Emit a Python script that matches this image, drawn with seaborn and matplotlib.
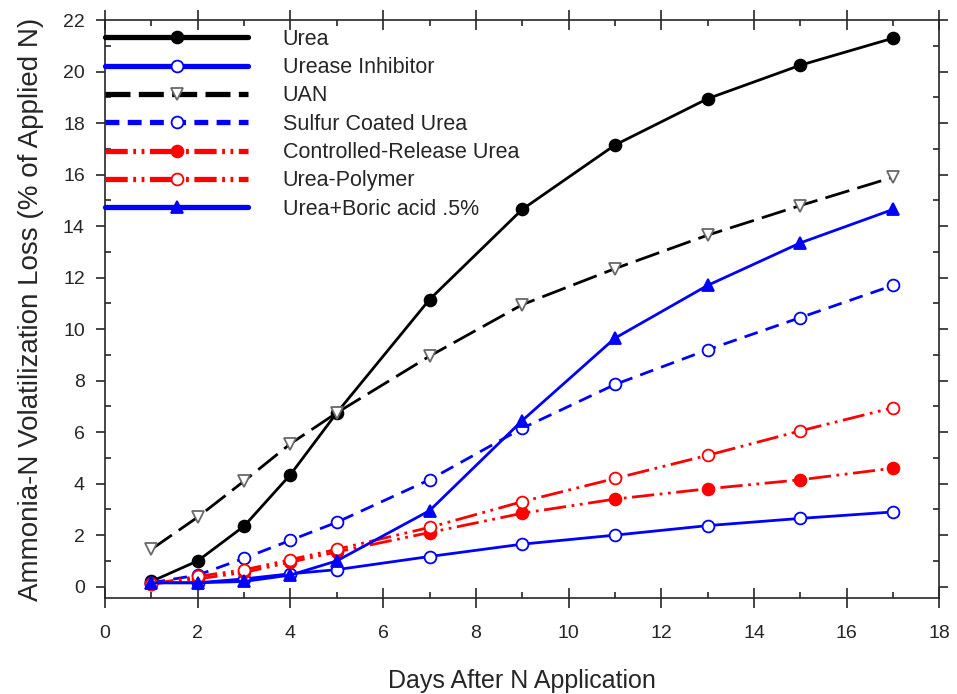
import matplotlib
matplotlib.use("Agg")
import matplotlib.pyplot as plt
from matplotlib.ticker import MultipleLocator
import seaborn as sns

days = [1, 2, 3, 4, 5, 7, 9, 11, 13, 15, 17]

urea = [0.2, 1.0, 2.35, 4.35, 6.75, 11.15, 14.65, 17.15, 18.95, 20.25, 21.3]
urease_inhibitor = [0.15, 0.15, 0.3, 0.5, 0.66, 1.17, 1.65, 2.0, 2.37, 2.65, 2.9]
uan = [1.45, 2.7, 4.1, 5.55, 6.75, 8.95, 10.95, 12.35, 13.65, 14.8, 15.9]
sulfur_coated = [0.15, 0.45, 1.1, 1.8, 2.5, 4.15, 6.15, 7.85, 9.2, 10.45, 11.7]
controlled_release = [0.1, 0.3, 0.55, 0.95, 1.35, 2.1, 2.85, 3.4, 3.8, 4.15, 4.6]
urea_polymer = [0.1, 0.4, 0.65, 1.05, 1.45, 2.3, 3.3, 4.2, 5.1, 6.05, 6.95]
boric_acid = [0.15, 0.15, 0.2, 0.45, 1.0, 2.95, 6.45, 9.65, 11.7, 13.35, 14.65]

labels = ["Urea", "Urease Inhibitor", "UAN", "Sulfur Coated Urea",
          "Controlled-Release Urea", "Urea-Polymer", "Urea+Boric acid .5%"]

sns.set_style("ticks")
plt.rcParams['font.family'] = ['Liberation Sans', 'DejaVu Sans']
plt.rcParams['lines.scale_dashes'] = False

fig = plt.figure(figsize=(9.57, 6.94), dpi=100)
ax = fig.add_axes([0.1097, 0.138, 0.872, 0.833])

ddot = (16, 4, 2, 4, 2, 4)
styles = [
    (urea, "black", (None, None), "o", "black"),
    (urease_inhibitor, "blue", (None, None), "o", "white"),
    (uan, "black", (18, 6), "v", "white"),
    (sulfur_coated, "blue", (10, 6), "o", "white"),
    (controlled_release, "red", ddot, "o", "red"),
    (urea_polymer, "red", ddot, "o", "white"),
    (boric_acid, "blue", (None, None), "^", "blue"),
]

for (vals, col, dash, mk, fill), lab in zip(styles, labels):
    sns.lineplot(x=days, y=vals, ax=ax, color=col, lw=2, marker=mk,
                 markersize=8.5, markerfacecolor=fill,
                 markeredgecolor=("dimgray" if mk == "v" else col),
                 markeredgewidth=1.3, label=lab)
    line = ax.get_lines()[-1]
    if dash[0] is not None:
        line.set_dashes(dash)

ax.set_xlim(0, 18)
ax.set_ylim(-0.45, 22)
ax.xaxis.set_major_locator(MultipleLocator(2))
ax.xaxis.set_minor_locator(MultipleLocator(1))
ax.yaxis.set_major_locator(MultipleLocator(2))
ax.yaxis.set_minor_locator(MultipleLocator(1))
ax.tick_params(which="both", direction="in", top=True, right=True, width=1.2)
ax.tick_params(axis="x", which="major", direction="inout", length=14, pad=12)
ax.tick_params(axis="y", which="major", direction="out", length=6.5, pad=8)
ax.tick_params(which="minor", length=4.5)
ax.tick_params(labelsize=14)
for sp in ax.spines.values():
    sp.set_linewidth(1.2)

ax.set_xlabel("Days After N Application", fontsize=18, labelpad=20)
ax.set_ylabel("Ammonia-N Volatilization Loss (% of Applied N)", fontsize=20, labelpad=14)

leg = ax.legend(loc="upper left", bbox_to_anchor=(0, 0.985), frameon=False,
                fontsize=15.5, handlelength=6.65, handletextpad=1.6,
                labelspacing=0.34, borderaxespad=0, borderpad=0)
for ln in leg.get_lines():
    ln.set_linewidth(3.8)

fig.savefig("out.png", dpi=100)
